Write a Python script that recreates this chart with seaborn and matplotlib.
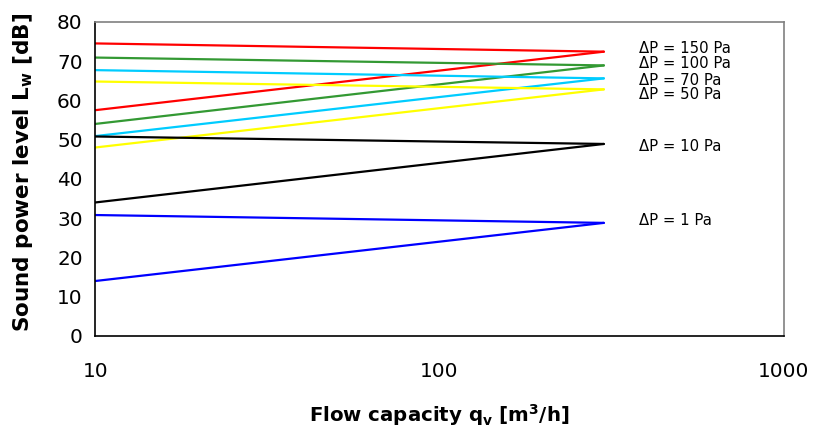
import numpy as np
import pandas as pd
import matplotlib
matplotlib.use("Agg")
import matplotlib.pyplot as plt
import seaborn as sns

# Pressure drops and line colours
pressures = ["150", "100", "70", "50", "10", "1"]
colors = ["#FF0000", "#339933", "#00CCFF", "#FFFF00", "#000000", "#0000FF"]

# Flow range of each curve
q_min = 10
q_max = 300

# Sound power at q_min (upper and lower branch) and at q_max (common end)
lw_upper = [74.5, 70.9, 67.7, 64.8, 50.8, 30.8]
lw_lower = [57.5, 54.0, 50.9, 48.0, 34.0, 14.0]
lw_end = [72.4, 68.9, 65.6, 62.8, 48.9, 28.8]

# Label positions (y, in dB)
label_y = [73.2, 69.4, 65.1, 61.6, 48.2, 29.5]
label_x = 380

rows = []
for p, hi, lo, end in zip(pressures, lw_upper, lw_lower, lw_end):
    rows.append({"q": q_min, "Lw": hi, "dp": p, "branch": "upper"})
    rows.append({"q": q_max, "Lw": end, "dp": p, "branch": "upper"})
    rows.append({"q": q_min, "Lw": lo, "dp": p, "branch": "lower"})
    rows.append({"q": q_max, "Lw": end, "dp": p, "branch": "lower"})
df = pd.DataFrame(rows)

sns.set_style("white")
plt.rcParams['font.family'] = ['DejaVu Sans']
plt.rcParams['mathtext.fontset'] = 'dejavusans'
plt.rcParams['text.color'] = 'black'
plt.rcParams['axes.labelcolor'] = 'black'
plt.rcParams['xtick.color'] = 'black'
plt.rcParams['ytick.color'] = 'black'

fig, ax = plt.subplots(figsize=(8.14, 4.28), dpi=100)
fig.subplots_adjust(left=0.117, right=0.963, bottom=0.215, top=0.949)

sns.lineplot(data=df, x="q", y="Lw", hue="dp", units="branch", estimator=None,
             palette=dict(zip(pressures, colors)), hue_order=pressures,
             linewidth=1.6, legend=False, ax=ax)

for p, y in zip(pressures, label_y):
    ax.text(label_x, y, "\u0394P = " + p + " Pa", fontsize=10.7, va="center", ha="left")

ax.set_xscale("log")
ax.set_xlim(10, 1000)
ax.set_ylim(0, 80)
ax.set_xticks([10, 100, 1000])
ax.set_xticklabels(["10", "100", "1000"])
ax.xaxis.set_minor_locator(matplotlib.ticker.NullLocator())
ax.set_yticks(np.arange(0, 81, 10))
ax.tick_params(axis="both", direction="inout", length=8, width=1, labelsize=14.4, pad=5)
ax.tick_params(axis="x", pad=15)

ax.set_xlabel("Flow capacity q$_\\mathbf{v}$ [m$^\\mathbf{3}$/h]", fontsize=14.2, fontweight="bold", labelpad=15)
ax.set_ylabel("Sound power level L$_\\mathbf{w}$ [dB]", fontsize=15.5, fontweight="bold")
ax.yaxis.set_label_coords(-0.087, 0.52)

for side in ["left", "bottom"]:
    ax.spines[side].set_color("black")
    ax.spines[side].set_linewidth(1.2)
for side in ["top", "right"]:
    ax.spines[side].set_color("#808080")
    ax.spines[side].set_linewidth(1.2)

fig.savefig("out.png", dpi=100)
